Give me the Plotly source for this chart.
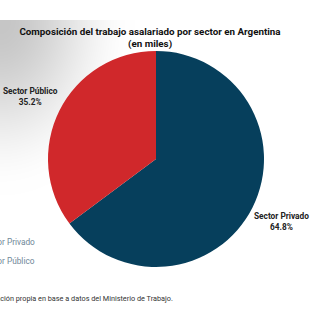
import base64
import math
import struct
import zlib

import numpy as np
import plotly.graph_objects as go

# Asalariados por sector (participación %, sobre el total en miles)
sectores = ["Sector Privado", "Sector Público"]
participacion = [64.8, 35.2]
colores = ["#063f5c", "#d0282b"]

titulo = "Composición del trabajo asalariado por sector en Argentina"
subtitulo = "(en miles)"
fuente = "Fuente: Elaboración propia en base a datos del Ministerio de Trabajo."

W, H = 328, 322

# pie geometry in pixels
CX, CY, R = 156, 159, 108
R_LABEL = 140


def png_data_uri(gray):
    """Encode a 2-D uint8 array as a grayscale PNG data URI."""
    h, w = gray.shape
    raw = b"".join(b"\x00" + gray[r].tobytes() for r in range(h))

    def chunk(tag, data):
        c = struct.pack(">I", len(data)) + tag + data
        return c + struct.pack(">I", zlib.crc32(tag + data) & 0xFFFFFFFF)

    png = b"\x89PNG\r\n\x1a\n"
    png += chunk(b"IHDR", struct.pack(">IIBBBBB", w, h, 8, 0, 0, 0, 0))
    png += chunk(b"IDAT", zlib.compress(raw, 9))
    png += chunk(b"IEND", b"")
    return "data:image/png;base64," + base64.b64encode(png).decode()


# Soft grey backdrop fading out from the upper-left corner
yy, xx = np.mgrid[0:H, 0:W].astype(float)
t = np.sqrt((xx / 135.0) ** 2 + ((yy - 20) / 175.0) ** 2)
t = np.clip(t, 0, 1)
t = t * t * (3 - 2 * t)
fondo = 198 + (255 - 198) * t
fondo[yy < 20] = 255
fondo = np.clip(fondo, 0, 255).astype(np.uint8)


def px(x):
    return x / W


def py(y):
    return 1 - y / H


fig = go.Figure(
    go.Pie(
        labels=sectores,
        values=participacion,
        marker=dict(colors=colores, line=dict(width=0)),
        sort=False,
        direction="clockwise",
        rotation=0,
        textinfo="none",
        hoverinfo="label+percent",
        domain=dict(x=[px(CX - R), px(CX + R)], y=[py(CY + R), py(CY - R)]),
    )
)

# Slice labels placed outside, along each slice's mid-angle
total = sum(participacion)
annotations = []
acum = 0.0
for nombre, valor in zip(sectores, participacion):
    medio = (acum + valor / 2) / total * 2 * math.pi
    acum += valor
    lx = CX + R_LABEL * math.sin(medio)
    ly = CY - R_LABEL * math.cos(medio)
    annotations.append(
        dict(
            text=f"<b>{nombre}<br>{valor / total * 100:.1f}%</b>",
            x=px(lx),
            y=py(ly),
            xref="paper",
            yref="paper",
            xanchor="center",
            yanchor="middle",
            showarrow=False,
            align="center",
            font=dict(family="Roboto", size=8.3, color="#222222"),
        )
    )

# second title line, set a little tighter than the default line height
annotations.append(
    dict(
        text="<b>" + subtitulo + "</b>",
        x=px(150),
        y=py(44),
        xref="paper",
        yref="paper",
        xanchor="center",
        yanchor="middle",
        showarrow=False,
        font=dict(family="Roboto", size=9.8, color="#111111"),
    )
)

annotations.append(
    dict(
        text=fuente,
        x=px(175),
        y=py(298),
        xref="paper",
        yref="paper",
        xanchor="right",
        yanchor="middle",
        showarrow=False,
        font=dict(family="Roboto", size=7.3, color="#333333"),
    )
)

fig.update_layout(
    width=W,
    height=H,
    margin=dict(l=0, r=0, t=0, b=0, autoexpand=False),
    paper_bgcolor="white",
    plot_bgcolor="white",
    font=dict(family="Roboto"),
    title=dict(
        text="<b>" + titulo + "</b>",
        x=px(150),
        xanchor="center",
        y=py(32),
        yanchor="middle",
        font=dict(family="Roboto", size=9.8, color="#111111"),
    ),
    showlegend=True,
    legend=dict(
        x=px(-59),
        y=py(227),
        xanchor="left",
        yanchor="top",
        bgcolor="rgba(0,0,0,0)",
        font=dict(family="Roboto", size=8.3, color="#6f8798"),
    ),
    annotations=annotations,
    images=[
        dict(
            source=png_data_uri(fondo),
            xref="paper",
            yref="paper",
            x=0,
            y=1,
            sizex=1,
            sizey=1,
            xanchor="left",
            yanchor="top",
            sizing="stretch",
            layer="below",
        )
    ],
)

fig.write_html("out.html")
